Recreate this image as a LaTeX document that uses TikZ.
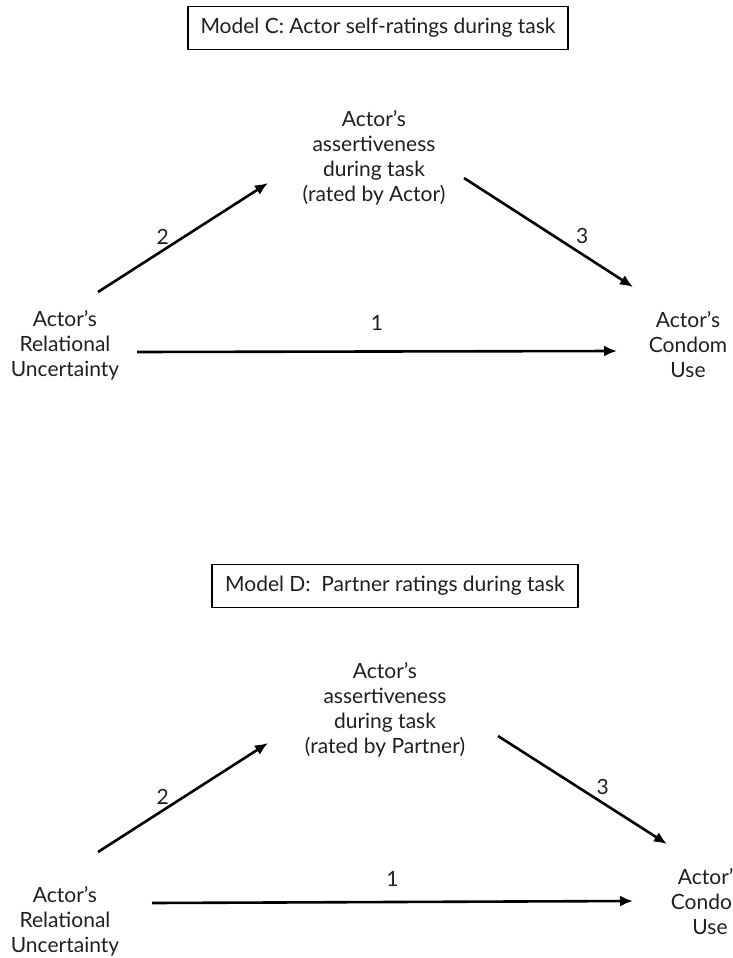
\documentclass[tikz,border=0pt]{standalone}
\usepackage{fontspec}
\setmainfont{Lato}
\usetikzlibrary{arrows.meta,positioning}
\tikzset{
  patharrow/.style={line width=2.6pt, -{Latex[length=13pt,width=11pt]}},
  varnode/.style={align=center, font=\fontsize{21}{25}\selectfont, inner sep=0pt},
  titlebox/.style={draw, line width=1.2pt, font=\fontsize{21}{24}\selectfont, minimum height=43pt},
  pathlabel/.style={font=\fontsize{21}{24}\selectfont, inner sep=0pt}
}

\begin{document}
\begin{tikzpicture}[x=1pt, y=-1pt, text=black!88]
    \useasboundingbox (0,0) rectangle (732,958);

    % Model C: nodes
    \node[titlebox, minimum width=380pt] (titleC) at (378,28) {Model C: Actor self-ratings during task};
    \node[varnode] (uncC) at (65,345) {Actor's\\Relational\\Uncertainty};
    \node[varnode] (medC) at (374,158) {Actor's\\assertiveness\\during task\\(rated by Actor)};
    \node[varnode] (useC) at (688,345) {Actor's\\Condom\\Use};

    % Model C: paths
    \draw[patharrow] ([shift={(72,7)}]uncC.center) -- node[pathlabel, pos=0.5, above=20pt] {1} ([shift={(-71,6)}]useC.center);
    \draw[patharrow] ([shift={(33,-53)}]uncC.center) -- node[pathlabel, pos=0.38, above=5pt] {2} ([shift={(-106,25)}]medC.center);
    \draw[patharrow] ([shift={(90,20)}]medC.center) -- node[pathlabel, pos=0.70, above=9pt] {3} ([shift={(-55,-58)}]useC.center);

    % Model D: nodes
    \node[titlebox, minimum width=366pt] (titleD) at (395,586) {Model D:\ \ Partner ratings during task};
    \node[varnode] (uncD) at (65,921) {Actor's\\Relational\\Uncertainty};
    \node[varnode] (medD) at (385,710) {Actor's\\assertiveness\\during task\\(rated by Partner)};
    \node[varnode] (useD) at (710,902) {Actor's\\Condom\\Use};

    % Model D: paths
    \draw[patharrow] ([shift={(87,-18)}]uncD.center) -- node[pathlabel, pos=0.5, above=14pt] {1} ([shift={(-77,-1)}]useD.center);
    \draw[patharrow] ([shift={(33,-69)}]uncD.center) -- node[pathlabel, pos=0.38, above=5pt] {2} ([shift={(-117,33)}]medD.center);
    \draw[patharrow] ([shift={(113,26)}]medD.center) -- node[pathlabel, pos=0.62, above=7pt] {3} ([shift={(-43,-58)}]useD.center);

\end{tikzpicture}
\end{document}
